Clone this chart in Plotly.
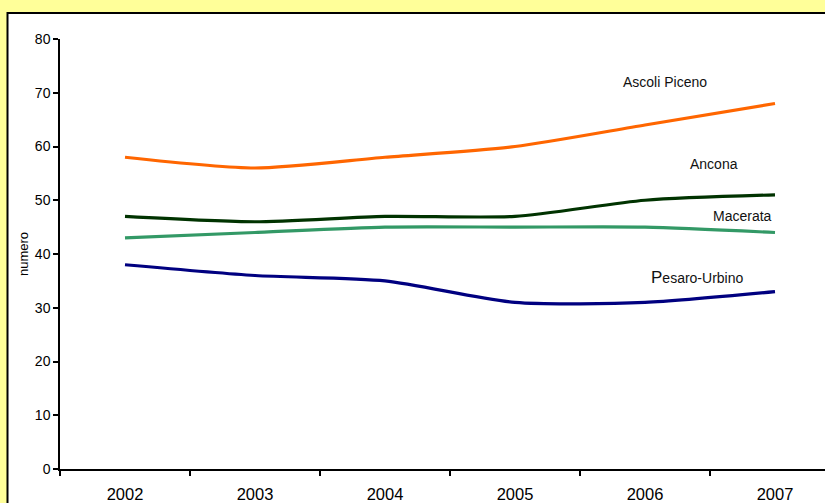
import plotly.graph_objects as go

# Provincial series, 2002-2007
years = ["2002", "2003", "2004", "2005", "2006", "2007"]
ascoli_piceno = [58, 56, 58, 60, 64, 68]
ancona = [47, 46, 47, 47, 50, 51]
macerata = [43, 44, 45, 45, 45, 44]
pesaro_urbino = [38, 36, 35, 31, 31, 33]

series = [
    ("Ascoli Piceno", ascoli_piceno, "#FF6600"),
    ("Ancona", ancona, "#003300"),
    ("Macerata", macerata, "#339966"),
    ("Pesaro-Urbino", pesaro_urbino, "#000080"),
]

# label positions (category index, value) and text
labels = [
    ("Ascoli Piceno", 4.15, 72.0),
    ("Ancona", 4.53, 56.7),
    ("Macerata", 4.75, 47.1),
    ("<span style='font-size:17px'>P</span>esaro-Urbino", 4.4, 35.7),
]

W, H = 825, 503
L, R, T, B = 60, 0, 39, 34
cat_px = 130.0
x_idx = list(range(len(years)))
x_max = -0.5 + (W - L - R) / cat_px

fig = go.Figure()
for name, vals, color in series:
    fig.add_trace(go.Scatter(
        x=x_idx, y=vals, mode="lines", name=name,
        line=dict(color=color, width=3.2, shape="spline", smoothing=0.7),
        hoverinfo="skip",
    ))

for text, xv, yv in labels:
    fig.add_annotation(x=xv, y=yv, text=text, showarrow=False,
                       font=dict(family="Arial, Liberation Sans", size=14, color="#111111"),
                       xanchor="center", yanchor="middle")

# chart frame: white panel with black border over a yellow background
pw = W - L - R
ph = H - T - B
fig.add_shape(type="rect", xref="paper", yref="paper",
              x0=(7.5 - L) / pw, x1=1.2,
              y0=-0.3, y1=(H - B - 13) / ph,
              fillcolor="white", line=dict(color="black", width=2),
              layer="below")

fig.update_layout(
    width=W, height=H,
    margin=dict(l=L, r=R, t=T, b=B),
    paper_bgcolor="#FFFF99",
    plot_bgcolor="rgba(0,0,0,0)",
    showlegend=False,
    font=dict(family="Arial, Liberation Sans", color="black"),
    xaxis=dict(
        range=[-0.5, x_max],
        tickmode="array", tickvals=x_idx, ticktext=years,
        ticks="outside", ticklen=9, tickcolor="rgba(0,0,0,0)",
        tickfont=dict(size=16.5),
        showgrid=False, zeroline=False,
        showline=True, linecolor="black", linewidth=1.5,
        minor=dict(tickmode="array",
                   tickvals=[i - 0.5 for i in range(len(years) + 1)],
                   ticks="outside", ticklen=5, tickcolor="black", tickwidth=1.5),
    ),
    yaxis=dict(
        range=[0, 80], tickmode="linear", tick0=0, dtick=10,
        ticks="outside", ticklen=5, tickcolor="black", tickwidth=1.5,
        tickfont=dict(size=14),
        showgrid=False, zeroline=False,
        showline=True, linecolor="black", linewidth=1.5,
        title=dict(text="numero", font=dict(size=13), standoff=3),
    ),
)

fig.write_html("out.html")
